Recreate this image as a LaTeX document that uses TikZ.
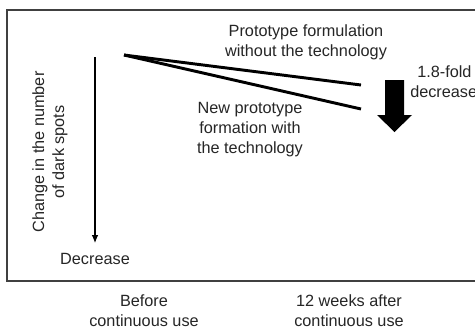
\documentclass[tikz,border=0pt]{standalone}
\usepackage{fontspec}
\setmainfont{Liberation Sans}
\usetikzlibrary{arrows.meta}
\begin{document}
\begin{tikzpicture}[x=0.75pt,y=-0.75pt,
  lbl/.style={align=center,font=\fontsize{12.2}{15}\selectfont,inner sep=0pt,text=black!85},
  trend/.style={line width=2.2pt,black},
  frame/.style={draw=black!75,line width=0.8pt}]
\useasboundingbox (0,0) rectangle (475,329);
\clip (0,0) rectangle (475,329);
\fill[white] (0,0) rectangle (475,329);
\draw[frame] (7,10) rectangle (490,281);
% axis arrow
\coordinate (atop) at (95,57);
\coordinate (abot) at (95,243);
\draw[line width=0.8pt,-{Latex[length=6pt,width=5pt]}] (atop) -- (abot);
\node[lbl] (dec) at (95,259) {Decrease};
\node[lbl,rotate=90] (ylab) at (50,152) {Change in the number\\of dark spots};
% trend lines
\coordinate (start) at (124,55);
\coordinate (end1) at (361,85);
\coordinate (end2) at (361,109);
\draw[trend] (start) -- (end1);
\draw[trend] (start) -- (end2);
\node[lbl] (without) at (306,42) {Prototype formulation\\without the technology};
\node[lbl] (with) at (250,130) {New prototype\\formation with\\the technology};
% big arrow
\fill[black] (385,80) -- (404,80) -- (404,115) -- (412,115) -- (394.5,132) -- (377,115) -- (385,115) -- cycle;
\node[lbl,anchor=west] (fold1) at (417,72) {1.8-fold};
\node[lbl,anchor=west] (fold2) at (410,92) {decrease};
% x labels
\node[lbl] (before) at (144,311) {Before\\continuous use};
\node[lbl] (after) at (349,311) {12 weeks after\\continuous use};
\end{tikzpicture}
\end{document}
